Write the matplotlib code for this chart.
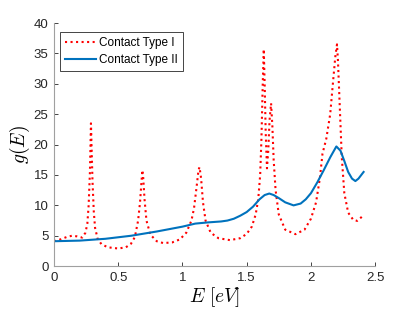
import matplotlib
matplotlib.use("Agg")
import matplotlib.pyplot as plt

# Contact Type I (red dotted)
e1 = [0.00, 0.05, 0.10, 0.14, 0.18, 0.22, 0.245, 0.26, 0.27, 0.28, 0.288, 0.295, 0.30, 0.31, 0.32, 0.34,
      0.37, 0.42, 0.50, 0.56, 0.60, 0.63, 0.655, 0.67, 0.68, 0.688, 0.695, 0.705, 0.72, 0.75, 0.80,
      0.85, 0.92, 0.98, 1.03, 1.07, 1.09, 1.11, 1.125, 1.133, 1.145, 1.16, 1.18, 1.22, 1.28, 1.37,
      1.45, 1.50, 1.54, 1.57, 1.59, 1.605, 1.615, 1.625, 1.633, 1.64, 1.648, 1.658, 1.668, 1.678,
      1.69, 1.70, 1.71, 1.725, 1.75, 1.80, 1.88, 1.95, 2.00, 2.04, 2.07, 2.09, 2.12, 2.15, 2.175,
      2.19, 2.203, 2.21, 2.225, 2.24, 2.26, 2.29, 2.33, 2.36, 2.39, 2.41]
g1 = [4.1, 4.4, 4.8, 5.0, 4.9, 4.7, 5.5, 7.0, 10.0, 15.5, 23.5, 18.0, 14.0, 9.0, 6.3, 4.5,
      3.6, 3.1, 2.9, 3.1, 3.7, 4.8, 7.5, 10.5, 13.5, 15.8, 14.5, 11.0, 7.5, 5.2, 4.1,
      3.8, 3.9, 4.4, 5.5, 7.5, 9.5, 13.0, 15.8, 16.3, 14.5, 10.5, 7.5, 5.5, 4.6, 4.28,
      4.6, 5.3, 6.5, 8.5, 11.0, 15.0, 21.0, 30.0, 35.7, 30.0, 22.0, 16.1, 19.0, 24.0,
      26.8, 23.0, 17.5, 12.5, 8.5, 6.0, 5.26, 6.0, 7.8, 10.5, 14.5, 18.5, 21.0, 25.0, 31.0,
      34.5, 36.5, 34.0, 26.0, 18.0, 12.0, 8.8, 7.6, 7.45, 8.0, 8.4]

# Contact Type II (blue solid)
e2 = [0.00, 0.20, 0.40, 0.60, 0.80, 1.00, 1.10, 1.20, 1.30, 1.35, 1.40, 1.45, 1.50, 1.55, 1.60,
      1.64, 1.676, 1.71, 1.75, 1.80, 1.865, 1.92, 1.96, 2.00, 2.05, 2.10, 2.15, 2.198, 2.23,
      2.26, 2.29, 2.32, 2.346, 2.37, 2.41]
g2 = [4.1, 4.2, 4.5, 5.0, 5.7, 6.5, 7.0, 7.2, 7.35, 7.5, 7.8, 8.3, 8.9, 9.8, 11.0,
      11.7, 11.95, 11.7, 11.2, 10.5, 10.0, 10.3, 11.0, 12.0, 13.8, 15.8, 17.9, 19.7, 19.0,
      17.3, 15.5, 14.4, 14.0, 14.4, 15.5]

labels = ["Contact Type I", "Contact Type II"]
xticks = [0, 0.5, 1, 1.5, 2, 2.5]
xticklabels = ["0", "0.5", "1", "1.5", "2", "2.5"]
yticks = [0, 5, 10, 15, 20, 25, 30, 35, 40]

plt.rcParams['font.family'] = ['Liberation Sans', 'DejaVu Sans']
plt.rcParams['mathtext.fontset'] = 'cm'

fig = plt.figure(figsize=(4.15, 3.12), dpi=100)
ax = fig.add_axes([0.130, 0.147, 0.774, 0.779])
ax.plot(e1, g1, color='#FF0000', linestyle=':', linewidth=1.5, label=labels[0])
ax.plot(e2, g2, color='#0072BD', linestyle='-', linewidth=1.5, label=labels[1])
ax.set_xlim(0, 2.5)
ax.set_ylim(0, 40)
ax.set_xticks(xticks)
ax.set_xticklabels(xticklabels)
ax.set_yticks(yticks)
for s in ['top', 'right']:
    ax.spines[s].set_visible(False)
for s in ['left', 'bottom']:
    ax.spines[s].set_color('#a0a0a0')
    ax.spines[s].set_linewidth(0.8)
ax.tick_params(direction='in', length=3, width=0.6, color='#262626', labelsize=9.5,
               labelcolor='#262626', pad=4)
ax.set_xlabel(r'$E\ [eV]$', fontsize=14, labelpad=1)
ax.set_ylabel(r'$g(E)$', fontsize=14, labelpad=1)
leg = ax.legend(loc='upper left', bbox_to_anchor=(0.01, 0.975), fontsize=8.5, frameon=True,
                fancybox=False, edgecolor='#262626', framealpha=1, borderpad=0.45,
                handlelength=2.6, labelspacing=0.45, handletextpad=0.3, borderaxespad=0.2)
leg.get_frame().set_linewidth(0.6)
fig.savefig('out.png', dpi=100)
